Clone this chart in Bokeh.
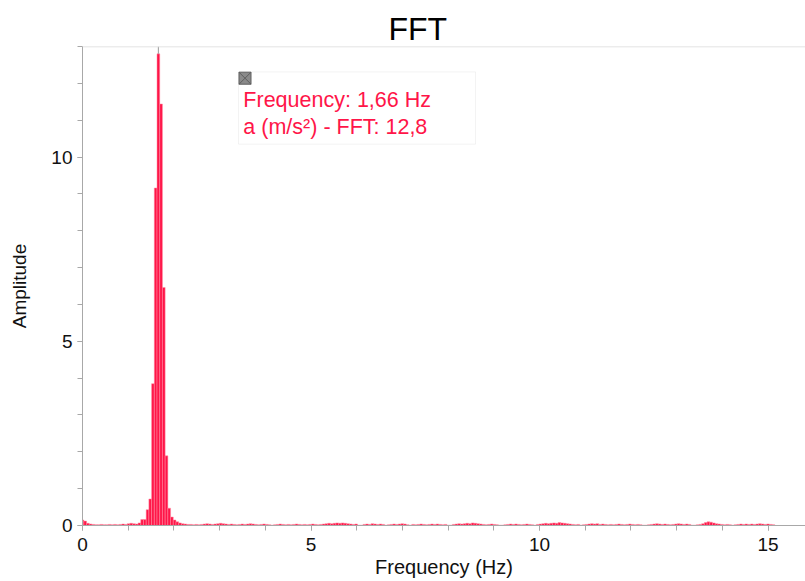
from bokeh.plotting import figure
from bokeh.models import (Range1d, SingleIntervalTicker, BoxAnnotation, Label, Span,
                          ColumnDataSource)
from bokeh.embed import file_html
from bokeh.resources import INLINE

# ---- data -------------------------------------------------------------
freq_step = 0.05929          # Hz per FFT bin
amplitude = [
    0.15, 0.12, 0.06, 0.04, 0.03, 0.02, 0.02, 0.03, 0.02, 0.02, 0.03, 0.02, 0.03, 0.02, 0.03, 0.04,
    0.03, 0.05, 0.06, 0.05, 0.04, 0.07, 0.16, 0.16, 0.43, 0.72, 3.85, 9.16, 12.8, 11.44, 6.46, 1.89,
    0.47, 0.23, 0.15, 0.10, 0.07, 0.05, 0.04, 0.03, 0.03, 0.02, 0.03, 0.02, 0.03, 0.04, 0.05, 0.04,
    0.03, 0.04, 0.05, 0.06, 0.05, 0.04, 0.03, 0.04, 0.03, 0.02, 0.03, 0.04, 0.03, 0.04, 0.05, 0.04,
    0.03, 0.02, 0.03, 0.04, 0.03, 0.02, 0.01, 0.02, 0.03, 0.04, 0.03, 0.02, 0.03, 0.02, 0.03, 0.04,
    0.03, 0.02, 0.03, 0.02, 0.03, 0.04, 0.03, 0.02, 0.03, 0.04, 0.05, 0.06, 0.05, 0.06, 0.07, 0.06,
    0.07, 0.06, 0.05, 0.04, 0.03, 0.04, 0.01, 0.01, 0.03, 0.04, 0.03, 0.05, 0.04, 0.03, 0.04, 0.03,
    0.01, 0.02, 0.03, 0.04, 0.03, 0.04, 0.05, 0.04, 0.02, 0.01, 0.03, 0.02, 0.03, 0.04, 0.03, 0.02,
    0.03, 0.04, 0.03, 0.04, 0.03, 0.02, 0.03, 0.01, 0.01, 0.03, 0.04, 0.05, 0.04, 0.05, 0.06, 0.05,
    0.07, 0.06, 0.05, 0.04, 0.03, 0.02, 0.03, 0.04, 0.03, 0.02, 0.01, 0.01, 0.02, 0.03, 0.04, 0.03,
    0.04, 0.03, 0.02, 0.03, 0.04, 0.03, 0.02, 0.01, 0.03, 0.04, 0.05, 0.06, 0.05, 0.06, 0.07, 0.06,
    0.08, 0.07, 0.06, 0.05, 0.04, 0.03, 0.02, 0.03, 0.01, 0.02, 0.03, 0.04, 0.05, 0.04, 0.05, 0.03,
    0.04, 0.03, 0.02, 0.03, 0.02, 0.03, 0.04, 0.03, 0.02, 0.03, 0.04, 0.03, 0.02, 0.03, 0.02, 0.01,
    0.01, 0.02, 0.03, 0.04, 0.05, 0.04, 0.03, 0.04, 0.03, 0.02, 0.03, 0.04, 0.05, 0.04, 0.03, 0.04,
    0.03, 0.01, 0.01, 0.02, 0.03, 0.05, 0.08, 0.10, 0.09, 0.07, 0.05, 0.04, 0.03, 0.02, 0.03, 0.02,
    0.01, 0.02, 0.03, 0.04, 0.03, 0.04, 0.03, 0.04, 0.03, 0.04, 0.05, 0.04, 0.03, 0.04, 0.03, 0.02,
]
frequency = [i * freq_step for i in range(len(amplitude))]

title_text = "FFT"
x_label = "Frequency (Hz)"
y_label = "Amplitude"
series_name = "a (m/s²) - FFT"

# ---- figure -----------------------------------------------------------
FONT = "Liberation Sans"
RED = "#FF1548"
AXIS_GRAY = "#A8A8A8"
Y_TOP = 13.0

p = figure(width=805, height=581, output_backend="svg", toolbar_location=None,
           x_range=Range1d(0, 15.82), y_range=Range1d(0, Y_TOP),
           min_border_left=82, min_border_right=0, min_border_top=46, min_border_bottom=56)

p.title.text = title_text
p.title.text_font = FONT
p.title.text_font_size = "32px"
p.title.text_font_style = "normal"
p.title.text_color = "#000000"
p.title.align = "left"
p.title.offset = 306
p.title.standoff = 0

p.outline_line_color = None
p.xgrid.visible = False
p.ygrid.visible = False
p.background_fill_color = "white"
p.border_fill_color = "white"

for ax, lab, lab_size in ((p.xaxis[0], x_label, "20px"), (p.yaxis[0], y_label, "19px")):
    ax.axis_label = lab
    ax.axis_label_text_font = FONT
    ax.axis_label_text_font_size = lab_size
    ax.axis_label_text_font_style = "normal"
    ax.axis_label_text_color = "#111111"
    ax.major_label_text_font = FONT
    ax.major_label_text_font_size = "19px"
    ax.major_label_text_color = "#111111"
    ax.axis_line_color = AXIS_GRAY
    ax.major_tick_line_color = AXIS_GRAY
    ax.minor_tick_line_color = AXIS_GRAY
    ax.major_tick_in = 0
    ax.major_tick_out = 5
    ax.minor_tick_in = 0
    ax.minor_tick_out = 5
    ax.ticker = SingleIntervalTicker(interval=5, num_minor_ticks=5)

p.xaxis.major_label_standoff = 7
p.xaxis.axis_label_standoff = 2
p.yaxis.major_label_standoff = 5
p.yaxis.axis_label_standoff = 18

# top frame line
p.add_layout(Span(location=Y_TOP, dimension="width", line_color="#DADADA", line_width=1.5))

# readout box (drawn beneath glyphs so the close marker shows)
p.add_layout(BoxAnnotation(left=3.414, right=8.60, bottom=10.35, top=12.31,
                           fill_color="white", fill_alpha=1.0,
                           line_color="#D4D4D4", line_width=1, level="underlay"))

# bars
src = ColumnDataSource(dict(x=frequency, top=amplitude))
p.vbar(x="x", top="top", width=freq_step, bottom=0, source=src,
       fill_color=RED, line_color="#FF8CA3", line_width=0.5)

# cursor at peak
peak_i = max(range(len(amplitude)), key=lambda i: amplitude[i])
peak_f = frequency[peak_i]
peak_a = amplitude[peak_i]
p.segment(x0=[peak_f], y0=[peak_a], x1=[peak_f], y1=[Y_TOP], line_color="#999999", line_width=1)

p.scatter(x=[3.556], y=[12.14], marker="square_x", size=12,
          fill_color="#8A8A8A", line_color="#5E5E5E", line_width=1)
fmt = lambda v, d: f"{v:.{d}f}".replace(".", ",")
p.add_layout(Label(x=3.52, y=11.55, text=f"Frequency: {fmt(peak_f, 2)} Hz",
                   text_font=FONT, text_font_size="21.5px", text_color=RED,
                   text_baseline="middle", text_align="left"))
p.add_layout(Label(x=3.52, y=10.81, text=f"{series_name}: {fmt(peak_a, 1)}",
                   text_font=FONT, text_font_size="21.5px", text_color=RED,
                   text_baseline="middle", text_align="left"))

open("out.html", "w").write(file_html(p, INLINE))
